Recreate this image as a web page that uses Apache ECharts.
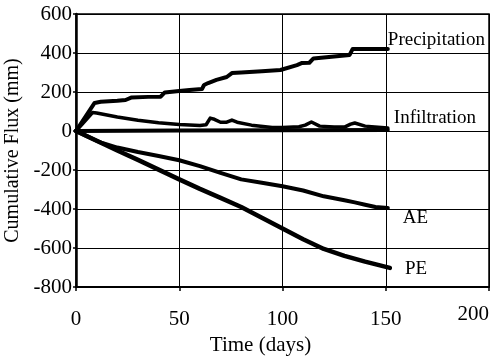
<!DOCTYPE html>
<html>
<head>
<meta charset="utf-8">
<script src="https://cdn.jsdelivr.net/npm/echarts@6/dist/echarts.min.js"></script>
<style>html,body{margin:0;padding:0;background:#fff}#c{width:496px;height:362px}</style>
</head>
<body>
<div id="c"></div>
<script>
const xTicks = [0, 50, 100, 150, 200];
const yTicks = [-800, -600, -400, -200, 0, 200, 400, 600];

const precipDays = [0, 9, 12, 20, 24, 27, 35, 41, 43, 50, 55, 61, 62, 64, 68, 73, 75.5, 80, 90, 99, 107, 109.5, 113, 115, 125, 132.5, 134, 140, 151];
const precipValues = [0, 144, 150, 155, 159, 172, 175, 176, 198, 205, 210, 215, 236, 246, 262, 277, 297, 300, 306, 313, 338, 349, 350, 372, 382, 390, 421, 421, 421];

const infilDays = [0, 8, 10, 15, 20, 30, 40, 50, 60, 63, 65, 67, 70, 73, 75.5, 78, 85, 95, 100, 108, 111, 114, 118, 125, 130, 133, 135, 140, 151];
const infilValues = [0, 95, 92, 82, 72, 55, 42, 33, 28, 32, 66, 60, 45, 45, 56, 45, 30, 18, 18, 22, 30, 46, 25, 20, 20, 35, 41, 25, 15];

const drainDays = [0, 50, 100, 151];
const drainValues = [0, 2, 4, 5];

const aeDays = [0, 5, 10, 13, 20, 30, 40, 50, 60, 70, 80, 90, 100, 110, 120, 130, 135, 140, 145, 151];
const aeValues = [0, -25, -50, -63, -85, -108, -128, -150, -180, -215, -248, -265, -283, -305, -335, -355, -366, -378, -390, -395];

const peDays = [0, 10, 20, 30, 40, 50, 60, 70, 80, 90, 100, 110, 120, 130, 140, 152];
const peValues = [0, -50, -100, -148, -198, -248, -297, -343, -390, -445, -500, -555, -605, -640, -670, -702];

const pairs = (xs, ys) => xs.map((x, i) => [x, ys[i]]);
const FONT = 'Liberation Serif';

function lineSeries(name, xs, ys, width, showLabel, offset) {
  return {
    name: name,
    type: 'line',
    data: pairs(xs, ys),
    symbol: 'none',
    silent: true,
    lineStyle: { color: '#000', width: width, cap: 'round', join: 'round' },
    endLabel: showLabel ? {
      show: true,
      formatter: name,
      fontFamily: FONT,
      fontSize: 19,
      color: '#000',
      offset: offset
    } : { show: false }
  };
}

const chart = echarts.init(document.getElementById('c'), null, { renderer: 'canvas' });
chart.setOption({
  animation: false,
  backgroundColor: '#fff',
  grid: { left: 76, right: 7, top: 14, bottom: 75, show: true, borderColor: '#000', borderWidth: 1.5, containLabel: false, outerBoundsMode: 'none' },
  xAxis: {
    type: 'value',
    min: xTicks[0], max: xTicks[xTicks.length - 1], interval: 50,
    name: 'Time (days)',
    nameLocation: 'middle',
    nameGap: 46,
    nameTextStyle: { fontFamily: FONT, fontSize: 21, color: '#000', padding: [0, 44, 0, 0] },
    axisLine: { show: true, onZero: false, lineStyle: { color: '#000', width: 2 } },
    axisTick: { show: true, inside: false, length: 4, lineStyle: { color: '#000', width: 1.5 } },
    axisLabel: {
      fontFamily: FONT, fontSize: 21, color: '#000', margin: 17,
      alignMaxLabel: 'right',
      formatter: function (v) { return v === xTicks[xTicks.length - 1] ? '{m|' + v + '}' : '{n|' + v + '}'; },
      rich: {
        n: { fontFamily: FONT, fontSize: 21, color: '#000', padding: [5, 0, 0, 0] },
        m: { fontFamily: FONT, fontSize: 21, color: '#000', padding: [0, 0, 0, 0] }
      }
    },
    splitLine: { show: true, lineStyle: { color: '#000', width: 1 } }
  },
  yAxis: {
    type: 'value',
    min: yTicks[0], max: yTicks[yTicks.length - 1], interval: 200,
    name: 'Cumulative Flux (mm)',
    nameLocation: 'middle',
    nameGap: 44,
    nameTextStyle: { fontFamily: FONT, fontSize: 20, color: '#000' },
    axisLine: { show: true, onZero: false, lineStyle: { color: '#000', width: 2.5 } },
    axisTick: { show: true, inside: false, length: 3, lineStyle: { color: '#000', width: 1.5 } },
    axisLabel: { fontFamily: FONT, fontSize: 21, color: '#000', margin: 4 },
    splitLine: { show: true, lineStyle: { color: '#000', width: 1 } }
  },
  series: [
    lineSeries('Drainage', drainDays, drainValues, 4, false),
    lineSeries('Precipitation', precipDays, precipValues, 4, true, [-8, -9]),
    lineSeries('Infiltration', infilDays, infilValues, 3.5, true, [-2, -10]),
    lineSeries('AE', aeDays, aeValues, 4, true, [7, 10]),
    lineSeries('PE', peDays, peValues, 4.5, true, [7, 1])
  ]
});
</script>
</body>
</html>
